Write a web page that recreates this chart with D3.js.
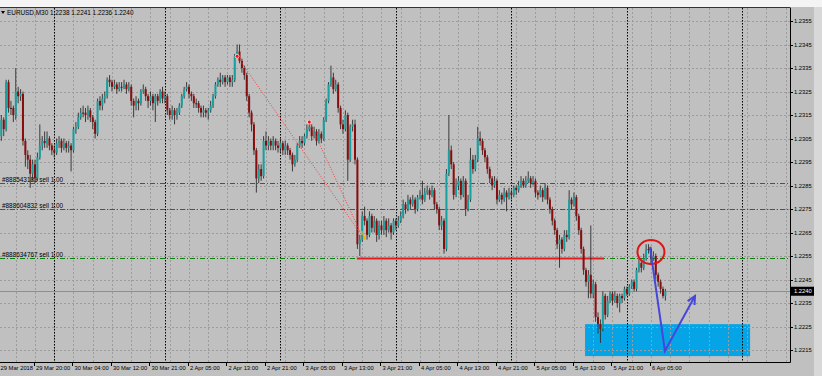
<!DOCTYPE html>
<html>
<head>
<meta charset="utf-8">
<script src="https://cdn.jsdelivr.net/npm/d3@7"></script>
<style>
body { margin: 0; background: #c0c0c0; }
svg { display: block; font-family: "Liberation Sans", Arial, sans-serif; }
</style>
</head>
<body>
<script>
// prices in pips above 1.2200, one M30 bar each
const base = 1.22
const firstOpen = 110
const closes = [
  106,113,109,129,118,118,115,125,123,124,
  104,98,96,90,94,88,97,102,104,103,
  105,102,100,99,103,104,101,103,101,102,
  100,109,110,114,116,116,115,117,114,112,
  107,121,119,122,123,130,129,127,128,126,
  127,127,128,126,127,121,119,121,120,125,
  126,123,121,123,120,123,121,125,122,123,
  117,115,117,115,116,119,123,126,127,124,
  123,120,120,118,116,117,116,117,119,123,
  128,130,129,131,129,131,129,130,140,142,
  138,135,132,123,116,111,100,88,92,89,
  104,102,104,102,104,102,101,103,100,102,
  100,98,94,96,102,104,103,106,109,110,
  106,108,104,107,105,113,121,128,131,126,
  128,118,111,109,115,96,110,111,96,60,
  62,72,70,64,72,67,70,64,68,66,
  70,66,68,65,70,68,70,72,77,75,
  79,77,79,75,80,81,79,82,83,81,
  83,77,75,68,70,58,90,100,94,81,
  85,87,81,87,75,79,96,92,96,105,
  104,100,97,92,88,85,87,79,81,79,
  82,80,82,81,84,83,85,87,85,87,
  88,86,87,82,81,83,80,84,79,75,
  70,66,60,62,58,64,63,79,77,80,
  72,66,58,49,44,47,39,43,29,26,
  24,38,30,36,39,36,38,35,38,37,
  41,39,42,44,41,49,52,50,54,58,
  58,54,55,47,44,41,38,40
]
const highs = [
  115,115,114,130,130,121,119,135,127,126,
  125,105,100,98,96,96,99,111,106,108,
  108,106,103,102,105,106,105,105,104,104,
  103,110,112,116,118,119,118,119,118,115,
  113,122,123,124,125,131,132,130,130,129,
  129,129,130,129,129,128,122,123,122,126,
  128,127,124,125,124,124,124,126,127,125,
  124,118,119,118,118,120,124,127,129,128,
  125,124,122,121,119,119,118,118,121,124,
  129,131,133,132,132,132,132,132,141,145,
  145,139,136,133,124,117,112,101,94,94,
  106,108,106,105,106,105,104,105,104,104,
  103,101,99,98,103,106,106,107,111,113,
  111,110,109,109,108,114,122,129,136,133,
  130,129,119,113,117,116,111,113,113,97,
  64,74,76,71,74,73,72,71,70,70,
  72,71,71,69,71,71,72,74,79,78,
  81,80,81,80,81,83,87,84,85,84,
  85,84,78,76,72,71,92,115,102,95,
  88,89,88,89,88,81,101,98,98,110,
  108,105,101,98,93,89,89,88,83,82,
  84,83,84,83,85,85,87,89,88,89,
  91,89,89,88,83,85,84,86,85,80,
  76,71,67,64,63,66,66,83,80,82,
  81,73,67,59,50,49,68,45,44,31,
  28,40,39,38,40,40,40,39,39,39,
  42,42,43,45,45,50,54,53,56,60,
  60,59,57,56,48,45,42,41
]
const lows = [
  100,104,106,108,116,115,112,113,120,121,
  102,93,92,84,87,86,87,96,100,101,
  101,100,98,97,98,101,99,100,99,99,
  91,99,107,109,113,114,112,113,112,109,
  105,106,117,117,120,122,127,125,126,124,
  125,125,126,124,125,119,114,117,117,119,
  124,121,118,119,117,112,119,120,120,120,
  115,113,113,111,113,115,118,122,125,122,
  121,118,118,116,114,114,114,113,116,118,
  122,127,127,128,127,128,127,127,129,139,
  137,133,130,121,114,108,98,82,86,87,
  88,100,100,100,100,100,99,99,98,98,
  98,96,91,93,95,101,101,102,105,108,
  104,105,102,103,103,104,112,120,127,124,
  125,116,109,107,108,87,95,108,94,58,
  55,61,68,62,63,65,65,61,62,64,
  64,63,65,62,64,66,67,69,71,73,
  74,75,76,73,74,79,77,78,81,79,
  80,75,73,66,66,56,57,89,92,79,
  80,83,79,80,72,74,78,90,91,95,
  102,98,95,90,86,83,84,77,78,77,
  78,74,79,79,80,81,82,84,84,84,
  86,84,85,80,79,80,78,79,77,73,
  68,64,58,50,56,57,61,62,75,76,
  70,64,56,47,42,37,37,37,27,22,
  18,23,28,29,35,34,35,33,31,35,
  36,38,38,41,40,40,48,48,49,53,
  56,52,53,45,42,39,37,36
]

const timeLabels = ["29 Mar 2018","29 Mar 20:00","30 Mar 04:00","30 Mar 12:00","30 Mar 21:00",
  "2 Apr 05:00","2 Apr 13:00","2 Apr 21:00","3 Apr 05:00","3 Apr 13:00","3 Apr 21:00",
  "4 Apr 05:00","4 Apr 13:00","4 Apr 21:00","5 Apr 05:00","5 Apr 13:00","5 Apr 21:00","6 Apr 05:00"]
const timeBars = [-1,15,31,47,63,79,95,111,127,143,159,175,191,207,223,239,255,271]
const separatorBars = [23,69,117,165,213,261,309]
const priceTicks = [15,25,35,45,55,65,75,85,95,105,115,125,135,145,155]

const orderPrices = [85.9, 74.9, 54.1]
const orderLabels = ["#888543183 sell 1.00","#888604832 sell 1.00","#888634767 sell 1.00"]
const redLevel = {from: 148.8, to: 251.5, v: 53.9}
const historyLines = [
  {b1: 99, v1: 140, b2: 150.1, v2: 64.8},
  {b1: 129, v1: 112, b2: 151.3, v2: 62.7}
]
const zone = {from: 243.6, to: 312.2, top: 26, bottom: 12.4}
const arrowPts = [[270.6, 58.8], [276.8, 14.6], [289.3, 38.0]]
const circleAt = [271, 56.7]
const lastPrice = 40

const W = 822, H = 376
const plot = {left: 0, right: 790, top: 8, bottom: 362}
const p = v => base + v / 10000
const fmt = d3.format(".4f")

const x = d3.scaleLinear().domain([0, 328]).range([-1.09, 788.1])
const y = d3.scaleLinear().domain([1.2215, 1.2355]).range([350, 21])

const svg = d3.select("body").append("svg")
    .attr("width", W)
    .attr("height", H)

svg.append("rect").attr("width", W).attr("height", H).attr("fill", "#c0c0c0")
svg.append("rect").attr("width", W).attr("height", 7).attr("fill", "#f4f4f4")
svg.append("rect").attr("x", 814).attr("y", 7).attr("width", 8).attr("height", H).attr("fill", "#d8d8d8")

svg.append("clipPath").attr("id", "clip")
  .append("rect")
    .attr("x", plot.left).attr("y", plot.top)
    .attr("width", plot.right - plot.left).attr("height", plot.bottom - plot.top)

const g = svg.append("g").attr("clip-path", "url(#clip)")

// target zone behind everything
g.append("rect")
    .attr("x", x(zone.from))
    .attr("y", y(p(zone.top)))
    .attr("width", x(zone.to) - x(zone.from))
    .attr("height", y(p(zone.bottom)) - y(p(zone.top)))
    .attr("fill", "#05a4e6")

// grid
g.selectAll(".hgrid")
    .data(priceTicks)
    .enter()
    .append("line")
        .attr("x1", 0).attr("x2", plot.right)
        .attr("y1", d => Math.round(y(p(d))) + 0.5)
        .attr("y2", d => Math.round(y(p(d))) + 0.5)
        .attr("stroke", "#9c9c9c")
        .attr("stroke-dasharray", "2,2")

g.selectAll(".vgrid")
    .data(d3.range(-1, 329, 8))
    .enter()
    .append("line")
        .attr("x1", d => Math.round(x(d)) + 0.5)
        .attr("x2", d => Math.round(x(d)) + 0.5)
        .attr("y1", plot.top).attr("y2", plot.bottom)
        .attr("stroke", "#9c9c9c")
        .attr("stroke-dasharray", "2,2")

g.selectAll(".sep")
    .data(separatorBars)
    .enter()
    .append("line")
        .attr("x1", d => Math.round(x(d)) + 0.5)
        .attr("x2", d => Math.round(x(d)) + 0.5)
        .attr("y1", plot.top).attr("y2", plot.bottom)
        .attr("stroke", "#000")
        .attr("stroke-dasharray", "1.5,1.5")

// current price line
g.append("line")
    .attr("x1", 0).attr("x2", plot.right)
    .attr("y1", Math.round(y(p(lastPrice))) + 0.5)
    .attr("y2", Math.round(y(p(lastPrice))) + 0.5)
    .attr("stroke", "#8e8e8e")

// order lines
g.selectAll(".order")
    .data(orderPrices)
    .enter()
    .append("line")
        .attr("x1", 0).attr("x2", plot.right)
        .attr("y1", d => Math.round(y(p(d))) + 0.5)
        .attr("y2", d => Math.round(y(p(d))) + 0.5)
        .attr("stroke", "#0a820a")
        .attr("stroke-dasharray", "5,2,1,2")

g.selectAll(".orderText")
    .data(orderLabels)
    .enter()
    .append("text")
        .attr("x", 2)
        .attr("y", (d, i) => y(p(orderPrices[i])) - 1)
        .attr("font-size", 6.4)
        .attr("fill", "#000")
        .text(d => d)

g.append("line")
    .attr("x1", x(redLevel.from)).attr("x2", x(redLevel.to))
    .attr("y1", y(p(redLevel.v))).attr("y2", y(p(redLevel.v)))
    .attr("stroke", "#e41e1e")
    .attr("stroke-width", 2)

// candles
const bars = closes.map((c, i) => ({
    i: i,
    o: i === 0 ? firstOpen : closes[i - 1],
    c: c,
    h: highs[i],
    l: lows[i]
}))

const candle = g.selectAll(".candle")
    .data(bars)
    .enter()
    .append("g")

candle.append("line")
    .attr("x1", d => x(d.i)).attr("x2", d => x(d.i))
    .attr("y1", d => y(p(d.h))).attr("y2", d => y(p(d.l)))
    .attr("stroke", "#2c2c2c")
    .attr("stroke-width", 0.9)

candle.append("rect")
    .attr("x", d => x(d.i) - 1)
    .attr("width", 2)
    .attr("y", d => y(p(Math.max(d.o, d.c))))
    .attr("height", d => Math.max(1, Math.abs(y(p(d.o)) - y(p(d.c)))))
    .attr("fill", d => d.c > d.o ? "#16a0a0" : (d.c < d.o ? "#8a0c0c" : "#2c2c2c"))

// trade history
g.selectAll(".hist")
    .data(historyLines)
    .enter()
    .append("line")
        .attr("x1", d => x(d.b1)).attr("y1", d => y(p(d.v1)))
        .attr("x2", d => x(d.b2)).attr("y2", d => y(p(d.v2)))
        .attr("stroke", "#ff3a3a")
        .attr("stroke-dasharray", "1,1.6")

g.selectAll(".histMark")
    .data(historyLines)
    .enter()
    .append("circle")
        .attr("cx", d => x(d.b1)).attr("cy", d => y(p(d.v1)))
        .attr("r", 2)
        .attr("fill", "#ff1010")
        .attr("stroke", "#fff")
        .attr("stroke-width", 0.7)

g.selectAll(".closeMark")
    .data(historyLines)
    .enter()
    .append("rect")
        .attr("x", d => x(d.b2) + 1).attr("y", d => y(p(d.v2)) - 2)
        .attr("width", 1.5).attr("height", 4)
        .attr("fill", "#f5b400")

// red circle around the top
g.append("ellipse")
    .attr("cx", x(circleAt[0])).attr("cy", y(p(circleAt[1])))
    .attr("rx", 13.5).attr("ry", 12)
    .attr("fill", "none")
    .attr("stroke", "#e01414")
    .attr("stroke-width", 2)

// blue path with arrow
const pts = arrowPts.map(d => [x(d[0]), y(p(d[1]))])
g.append("path")
    .attr("d", d3.line()(pts))
    .attr("fill", "none")
    .attr("stroke", "#4646d8")
    .attr("stroke-width", 2)

const tip = pts[2], prev = pts[1]
const ang = Math.atan2(tip[1] - prev[1], tip[0] - prev[0])
const head = [
    [tip[0] - 9 * Math.cos(ang - 0.45), tip[1] - 9 * Math.sin(ang - 0.45)],
    tip,
    [tip[0] - 9 * Math.cos(ang + 0.45), tip[1] - 9 * Math.sin(ang + 0.45)]
]
g.append("path")
    .attr("d", d3.line()(head))
    .attr("fill", "none")
    .attr("stroke", "#4646d8")
    .attr("stroke-width", 2)

// frame
svg.append("line").attr("x1", 0).attr("x2", plot.right + 0.5).attr("y1", plot.top - 0.5).attr("y2", plot.top - 0.5).attr("stroke", "#333")
svg.append("line").attr("x1", 0).attr("x2", plot.right + 0.5).attr("y1", plot.bottom + 0.5).attr("y2", plot.bottom + 0.5).attr("stroke", "#000")
svg.append("line").attr("x1", plot.right + 0.5).attr("x2", plot.right + 0.5).attr("y1", plot.top).attr("y2", plot.bottom + 0.5).attr("stroke", "#000")

// price axis
const pa = svg.append("g")
pa.selectAll("line")
    .data(priceTicks)
    .enter()
    .append("line")
        .attr("x1", plot.right).attr("x2", plot.right + 3)
        .attr("y1", d => Math.round(y(p(d))) + 0.5)
        .attr("y2", d => Math.round(y(p(d))) + 0.5)
        .attr("stroke", "#000")
pa.selectAll("text")
    .data(priceTicks)
    .enter()
    .append("text")
        .attr("x", 794)
        .attr("y", d => y(p(d)) + 2)
        .attr("font-size", 5.8)
        .attr("fill", "#000")
        .text(d => fmt(p(d)))

svg.append("rect")
    .attr("x", 791).attr("y", y(p(lastPrice)) - 4.5)
    .attr("width", 23).attr("height", 9)
    .attr("fill", "#000")
svg.append("text")
    .attr("x", 794).attr("y", y(p(lastPrice)) + 2)
    .attr("font-size", 5.8)
    .attr("fill", "#fff")
    .text(fmt(p(lastPrice)))

// time axis
const ta = svg.append("g")
ta.selectAll("line")
    .data(timeBars)
    .enter()
    .append("line")
        .attr("x1", d => Math.round(x(d)) - 0.5).attr("x2", d => Math.round(x(d)) - 0.5)
        .attr("y1", plot.bottom).attr("y2", plot.bottom + 4)
        .attr("stroke", "#000")
ta.selectAll("text")
    .data(timeLabels)
    .enter()
    .append("text")
        .attr("x", (d, i) => Math.max(0.5, x(timeBars[i]) + 1))
        .attr("y", 370)
        .attr("font-size", 5.8)
        .attr("fill", "#000")
        .text(d => d)

// header
svg.append("path").attr("d", "M1,11 L5,11 L3,14 Z").attr("fill", "#000")
svg.append("text")
    .attr("x", 7).attr("y", 15.3)
    .attr("font-size", 6.4)
    .attr("fill", "#000")
    .text("EURUSD,M30  " + [38, 41, 36, 40].map(v => fmt(p(v))).join(" "))
</script>
</body>
</html>
